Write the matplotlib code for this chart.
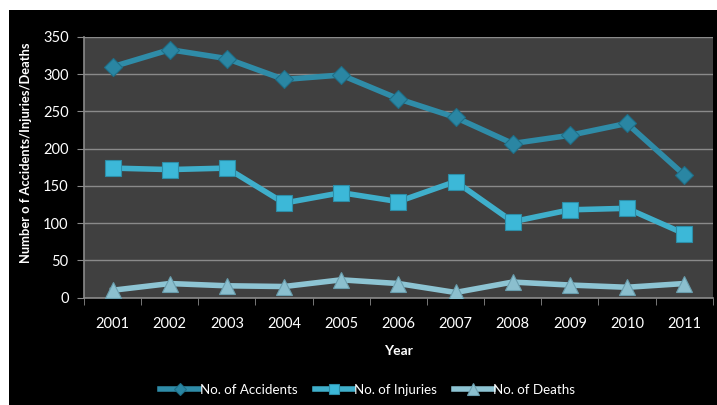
import matplotlib.pyplot as plt
import matplotlib.patches as mpatches
import numpy as np

plt.rcParams.update({'font.family': ['Lato', 'DejaVu Sans'], 'font.size': 10.5})

years = ['2001', '2002', '2003', '2004', '2005', '2006', '2007', '2008', '2009', '2010', '2011']
accidents = [310, 333, 321, 293, 299, 267, 242, 207, 218, 234, 165]
injuries = [174, 172, 174, 127, 141, 129, 156, 102, 118, 120, 86]
deaths = [10, 19, 16, 15, 24, 19, 7, 21, 17, 14, 19]

fig = plt.figure(figsize=(7.17, 4.05), dpi=100)
fig.patch.set_facecolor('white')
# black chart area (white strip left and top)
fig.patches.append(mpatches.Rectangle((9 / 717, 0), 1, 1 - 10 / 405, transform=fig.transFigure,
                                      facecolor='black', edgecolor='none', zorder=-10))

ax = fig.add_axes([84 / 717, 1 - 297.7 / 405, (712.7 - 84) / 717, (297.7 - 37) / 405])
ax.set_zorder(1)
ax.set_facecolor('#404040')

x = np.arange(len(years))
ax.plot(x, accidents, '-', color='#2F8CA8', lw=4, marker='D', ms=9,
        mfc='#2A86A3', mec='#1E6F88', mew=0.8, label='No. of Accidents', zorder=4)
ax.plot(x, injuries, '-', color='#3FAFCB', lw=4, marker='s', ms=11,
        mfc='#3CB8D8', mec='#2C8EA8', mew=0.8, label='No. of Injuries', zorder=4)
ax.plot(x, deaths, '-', color='#8DC4D3', lw=4, marker='^', ms=12,
        mfc='#8BBFCE', mec='#6A9EAE', mew=0.8, label='No. of Deaths', zorder=4)

ax.set_xlim(-0.5, len(years) - 0.5)
ax.set_ylim(0, 350)
ax.set_yticks(np.arange(0, 351, 50))
ax.set_xticks(x)
ax.set_xticklabels(years)
ax.set_xticks(np.arange(-0.5, len(years), 1), minor=True)
ax.tick_params(axis='x', which='major', length=0, pad=14, colors='white', labelsize=10.5)
ax.tick_params(axis='x', which='minor', length=5, color='#8a8a8a', direction='out')
ax.tick_params(axis='y', length=5, color='#8a8a8a', colors='white', labelsize=10.5, pad=6)

ax.grid(axis='y', color='#8a8a8a', lw=1)
ax.set_axisbelow(True)
for s in ['top', 'right']:
    ax.spines[s].set_visible(False)
for s in ['left', 'bottom']:
    ax.spines[s].set_color('#8a8a8a')
    ax.spines[s].set_linewidth(1.2)

ax.set_xlabel('Year', color='white', fontweight='bold', fontsize=10, labelpad=10)
ax.set_ylabel('Number o f Accidents/Injuries/Deaths', color='white', fontweight='bold',
              fontsize=9.3)
ax.yaxis.set_label_coords(-0.082, 0.555)

leg = fig.legend(loc='center', bbox_to_anchor=(0.513, 1 - 390 / 405), ncol=3, frameon=False,
                 handlelength=2.9, columnspacing=1.3, handletextpad=0.05, fontsize=9.6,
                 markerscale=0.7)
for t in leg.get_texts():
    t.set_color('white')

fig.savefig('out.png', dpi=100, facecolor=fig.get_facecolor())
